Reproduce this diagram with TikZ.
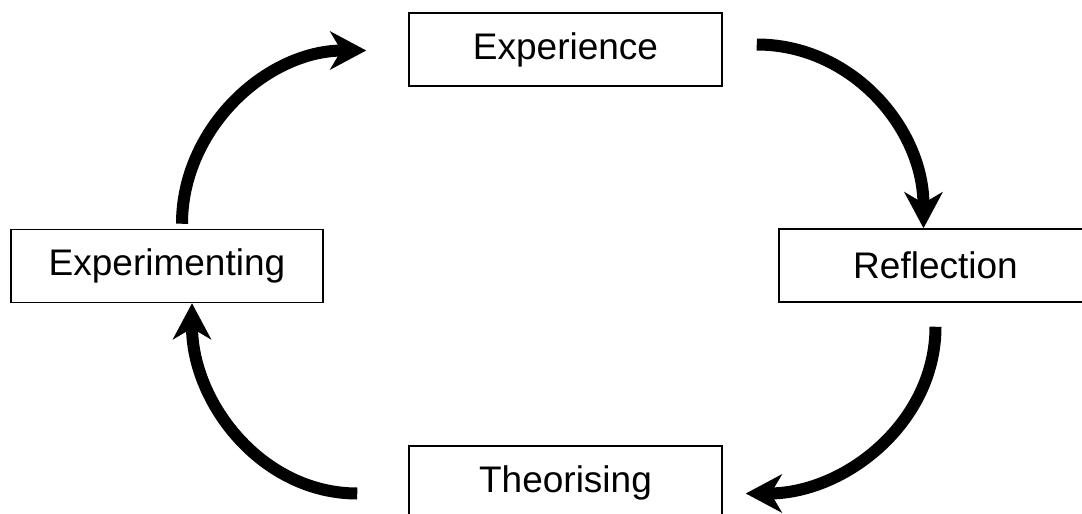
\documentclass[tikz,border=0pt]{standalone}
\usepackage{fontspec}
\setmainfont{Liberation Sans}
\usetikzlibrary{arrows.meta}
\begin{document}
\begin{tikzpicture}[x=1pt,y=-1pt,
  stagebox/.style={draw, line width=1.5pt, minimum height=73pt, inner sep=0pt,
    font=\fontsize{37}{44}\selectfont},
  cyclearrow/.style={line width=12pt, -{Stealth[length=36pt, width=38pt, inset=11pt]}}]
\useasboundingbox (0,0) rectangle (1082,514);
\node[stagebox, minimum width=313pt] (exp) at (565.5,49.5) {Experience};
\node[stagebox, minimum width=313pt] (refl) at (935.5,265.5) {Reflection};
\node[stagebox, minimum width=313pt] (theo) at (565.5,482.5) {Theorising};
\node[stagebox, minimum width=312pt] (expt) at (167,266) {Experimenting};
\draw[cyclearrow] ([shift={(34,-5)}]exp.east) .. controls +(95,0) and +(0,-100) .. ([xshift=-12]refl.north);
\draw[cyclearrow] ([shift={(0,24)}]refl.south) .. controls +(0,95) and +(100,0) .. ([shift={(23,11)}]theo.east);
\draw[cyclearrow] ([shift={(-51,11)}]theo.west) .. controls +(-95,0) and +(0,100) .. ([xshift=25]expt.south);
\draw[cyclearrow] ([shift={(15,-5)}]expt.north) .. controls +(0,-95) and +(-100,0) .. ([shift={(-42,1)}]exp.west);
\end{tikzpicture}
\end{document}
